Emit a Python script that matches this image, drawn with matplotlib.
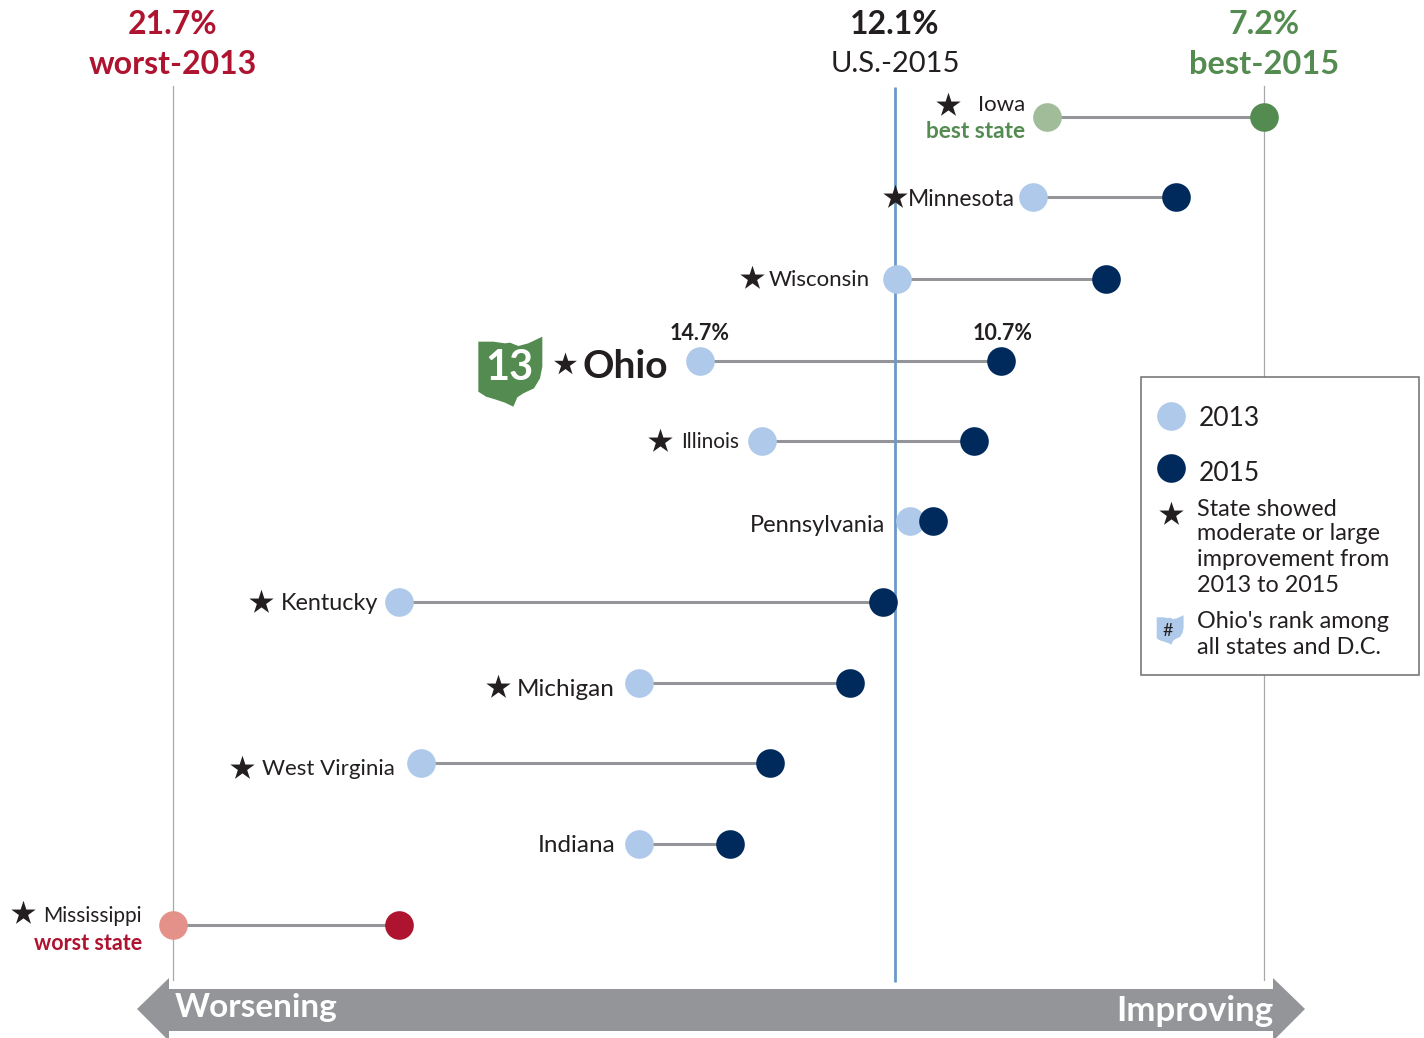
#!/usr/bin/env python3
import matplotlib
matplotlib.use('Agg')
import matplotlib.pyplot as plt
from matplotlib.patches import Polygon, Rectangle

# ── Datos ──────────────────────────────────────────────────────────────────
states = ['Iowa', 'Minnesota', 'Wisconsin', 'Ohio', 'Illinois', 'Pennsylvania',
          'Kentucky', 'Michigan', 'West Virginia', 'Indiana', 'Mississippi']
rate_2013 = [10.08, 10.27, 12.08, 14.7, 13.87, 11.9, 18.7, 15.5, 18.4, 15.5, 21.7]
rate_2015 = [7.2, 8.37, 9.3, 10.7, 11.05, 11.6, 12.27, 12.7, 13.76, 14.3, 18.7]
us_2015, best_2015, worst_2013 = 12.1, 7.2, 21.7

# ── Estilo ─────────────────────────────────────────────────────────────────
W, H = 1424, 1038
C_TEXT = '#231f20'
C_LIGHT, C_DARK = '#aec9e9', '#002a5c'
C_GREEN, C_GREEN_L = '#548b50', '#a0bc98'
C_RED, C_RED_L = '#ae1330', '#e4918a'
C_GREY = '#939598'
C_US = '#6a9bc6'
plt.rcParams['font.family'] = ['Lato', 'DejaVu Sans']

# altura de cada fila en px
ROW_Y = [117, 197, 279, 361, 441, 521, 602, 683, 763, 844, 925]
# state: (label right edge px, label y px, star x px or None, star y px, font size)
LABELS = {
    'Iowa': (1025, 104, 948, 105, 16),
    'Minnesota': (1015, 198, 895, 197, 16.5),
    'Wisconsin': (870, 279, 752, 278, 16),
    'Illinois': (739, 441, 660, 441, 15),
    'Pennsylvania': (885, 525, None, None, 17),
    'Kentucky': (378, 603, 261, 602, 16.8),
    'Michigan': (615, 688, 498, 687, 17.5),
    'West Virginia': (395, 768, 242, 768, 16),
    'Indiana': (615, 845, None, None, 17.5),
    'Mississippi': (142, 915, 23, 913, 15),
}
OHIO = [(55, 95), (100, 95), (135, 100), (150, 98), (175, 108), (205, 100),
        (247, 80), (247, 170), (240, 205), (222, 235), (190, 250), (172, 262),
        (160, 290), (135, 278), (105, 268), (78, 260), (55, 245)]


def px(x, y):
    return x / W, 1 - y / H


def put(fig, x, y, s, size, color=C_TEXT, weight='normal', ha='center'):
    fx, fy = px(x, y + 1)
    fig.text(fx, fy, s, fontsize=size, color=color, fontweight=weight,
             ha=ha, va='center')


def star(ax, fig, x, y, size=340, zorder=6):
    fx, fy = px(x, y)
    ax.scatter([fx], [fy], s=size, marker='*', color=C_TEXT, linewidths=0,
               transform=fig.transFigure, zorder=zorder, clip_on=False)


def ohio_shape(ax, fig, x0, y0, scale, color):
    pts = [px(x0 + a * scale, y0 + b * scale) for a, b in OHIO]
    ax.add_patch(Polygon(pts, closed=True, facecolor=color, edgecolor='none',
                         transform=fig.transFigure, zorder=7))


def main():
    fig = plt.figure(figsize=(W / 100, H / 100), dpi=100, facecolor='white')
    ax = fig.add_axes([0, 0, 1, 1])
    # escala: 75.24 px por punto porcentual; eje y en px
    ax.set_xlim(worst_2013 + 173 / 75.24, worst_2013 - (W - 173) / 75.24)
    ax.set_ylim(H, 0)
    ax.axis('off')

    ax.plot([worst_2013] * 2, [86, 980], color='#a7a9ac', lw=0.9, zorder=1)
    ax.plot([best_2015] * 2, [86, 980], color='#a7a9ac', lw=0.9, zorder=1)

    n = len(states)
    for i, st in enumerate(states):
        a, b, y = rate_2013[i], rate_2015[i], ROW_Y[i]
        c_a, c_b = C_LIGHT, C_DARK
        if i == 0:
            c_a, c_b = C_GREEN_L, C_GREEN
        elif i == n - 1:
            c_a, c_b = C_RED_L, C_RED
        ax.plot([a, b], [y, y], color=C_GREY, lw=2.2, zorder=2, solid_capstyle='butt')
        ax.scatter([a], [y], s=425, color=c_a, linewidths=0, zorder=4)
        ax.scatter([b], [y], s=425, color=c_b, linewidths=0, zorder=5)
        if st in LABELS:
            rx, ry, sx, sy, fs = LABELS[st]
            put(fig, rx, ry, st, fs, ha='right')
            if sx is not None:
                star(ax, fig, sx, sy)

    ax.plot([us_2015] * 2, [87, 982], color=C_US, lw=2.0, zorder=3, solid_capstyle='butt')

    # Encabezados
    put(fig, 173, 24, f'{worst_2013}%', 23, C_RED, 'bold')
    put(fig, 173, 63, 'worst-2013', 23, C_RED, 'bold')
    put(fig, 895, 24, f'{us_2015}%', 23, C_TEXT, 'bold')
    put(fig, 895, 63, 'U.S.-2015', 21, C_TEXT, 'normal')
    put(fig, 1264, 24, f'{best_2015}%', 23, C_GREEN, 'bold')
    put(fig, 1264, 63, 'best-2015', 23.5, C_GREEN, 'bold')
    put(fig, 1025, 130, 'best state', 16.3, C_GREEN, 'bold', 'right')
    put(fig, 142, 942, 'worst state', 15.5, C_RED, 'bold', 'right')

    # Ohio
    ohio_shape(ax, fig, 460, 310, 1 / 3, C_GREEN)
    put(fig, 509, 367, '13', 30, 'white', 'bold')
    star(ax, fig, 565, 364, 300)
    put(fig, 668, 366, 'Ohio', 28, C_TEXT, 'bold', 'right')
    put(fig, 700, 333, '14.7%', 15.5, C_TEXT, 'bold')
    put(fig, 1003, 333, '10.7%', 15.5, C_TEXT, 'bold')

    # Leyenda
    bx0, by0 = px(1141, 675)
    bx1, by1 = px(1419, 377)
    ax.add_patch(Rectangle((bx0, by0), bx1 - bx0, by1 - by0, transform=fig.transFigure,
                           facecolor='white', edgecolor='#6d6e71', lw=1.1, zorder=6))
    for y, c in [(416, C_LIGHT), (467.5, C_DARK)]:
        fx, fy = px(1171, y)
        ax.scatter([fx], [fy], s=425, color=c, linewidths=0, transform=fig.transFigure, zorder=7)
    put(fig, 1199, 418, '2013', 19, ha='left')
    put(fig, 1199, 473, '2015', 19, ha='left')
    star(ax, fig, 1171, 514, zorder=7)
    for y, s in [(508, 'State showed'), (533, 'moderate or large'),
                 (559, 'improvement from'), (584, '2013 to 2015'),
                 (620, "Ohio's rank among"), (646, 'all states and D.C.')]:
        put(fig, 1197, y, s, 16.8, ha='left')
    ohio_shape(ax, fig, 1149, 604, 0.14, C_LIGHT)
    put(fig, 1168, 630, '#', 13, C_TEXT)

    # Flechas
    arrow = [(137, 1009), (169, 978), (169, 989), (1273, 989), (1273, 978), (1305, 1009),
             (1273, 1041), (1273, 1031), (169, 1031), (169, 1041)]
    ax.add_patch(Polygon([px(*p) for p in arrow], closed=True, facecolor=C_GREY,
                         edgecolor='none', transform=fig.transFigure, zorder=2))
    put(fig, 175, 1006, 'Worsening', 24, 'white', 'bold', 'left')
    put(fig, 1273, 1010, 'Improving', 25, 'white', 'bold', 'right')

    fig.savefig('out.png', dpi=100, facecolor='white')
    plt.close(fig)


if __name__ == '__main__':
    main()
